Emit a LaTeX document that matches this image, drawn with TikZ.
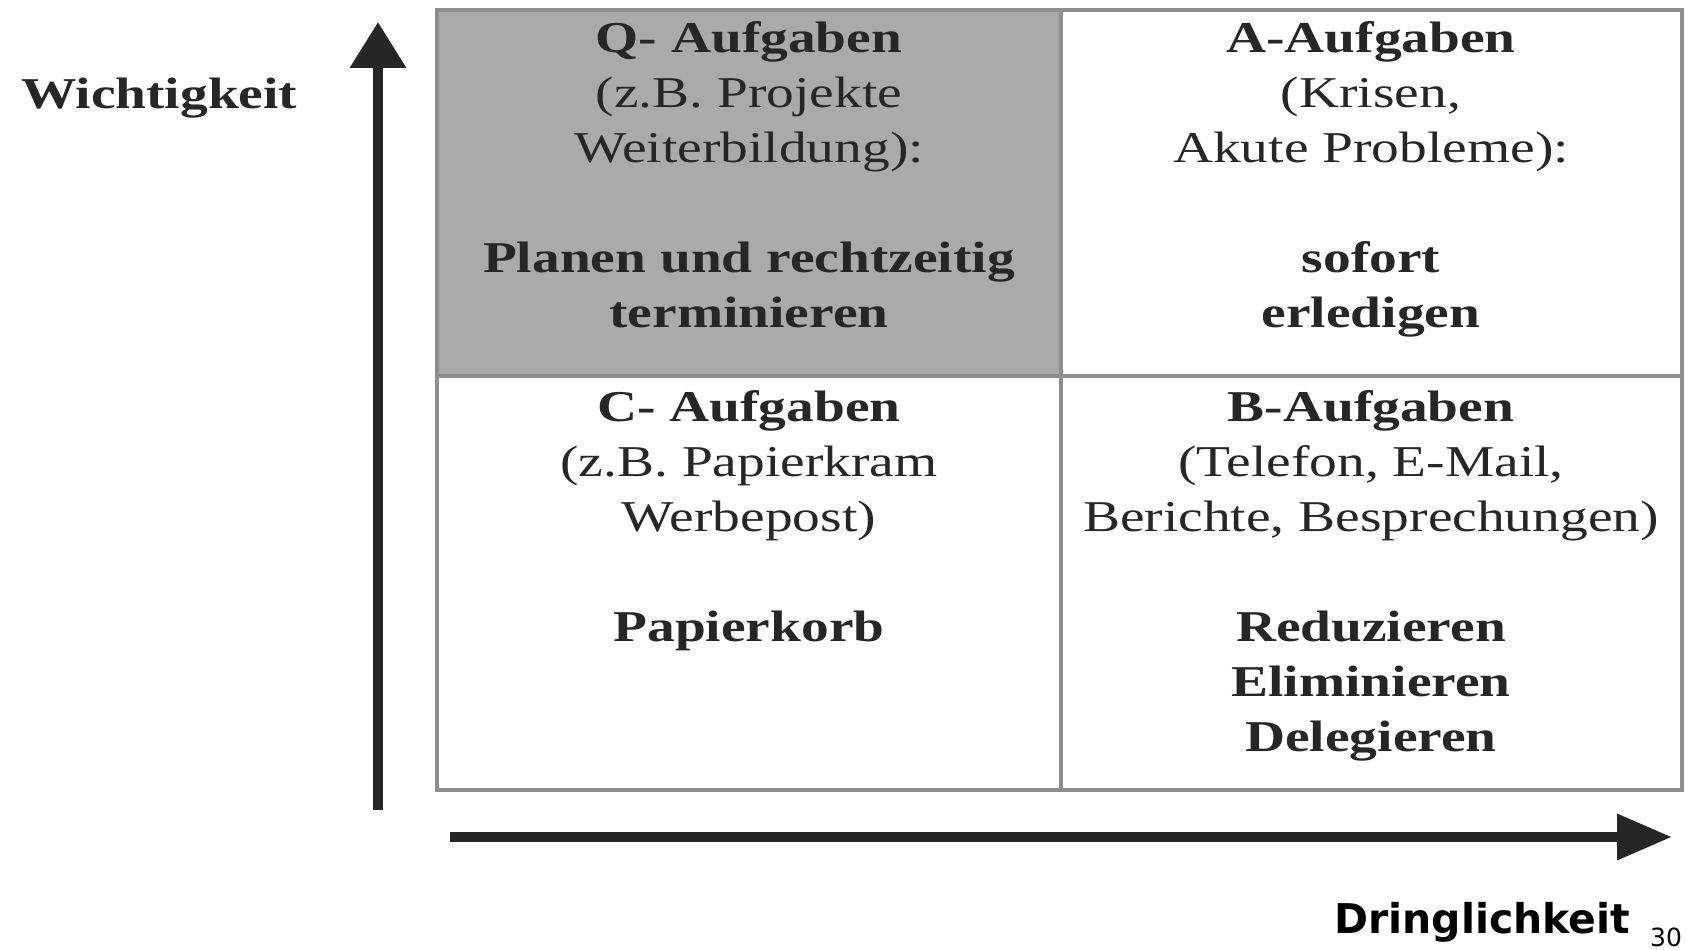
\documentclass[tikz,border=0pt]{standalone}
\usepackage{fontspec}
\usetikzlibrary{arrows.meta}
\newfontfamily\cellfont{Liberation Serif}[FakeStretch=1.26]
\newfontfamily\axisfont{DejaVu Sans}
\definecolor{quadgray}{HTML}{A8AAAC}
\definecolor{gridline}{HTML}{8E8E8E}
\definecolor{ink}{HTML}{262626}

\begin{document}
\begin{tikzpicture}[x=1pt,y=-1pt,
        cell/.style={anchor=north,align=center,inner sep=0pt,text=ink,font=\cellfont\fontsize{44}{55}\selectfont},
        axisline/.style={draw=ink,line width=10pt}]
        \useasboundingbox (0,0) rectangle (1686,950);
        \pgfmathsetmacro{\gridleft}{437}
        \pgfmathsetmacro{\gridright}{1682}
        \pgfmathsetmacro{\gridtop}{10}
        \pgfmathsetmacro{\gridbottom}{790}
        \pgfmathsetmacro{\gridmidx}{1061}
        \pgfmathsetmacro{\gridmidy}{376}

        %shade Q quadrant
        \fill[quadgray] (\gridleft,\gridtop) rectangle (\gridmidx,\gridmidy);
        %draw grid
        \draw[gridline,line width=4pt] (\gridleft,\gridtop) rectangle (\gridright,\gridbottom);
        \draw[gridline,line width=4pt] (\gridmidx,\gridtop) -- (\gridmidx,\gridbottom);
        \draw[gridline,line width=4pt] (\gridleft,\gridmidy) -- (\gridright,\gridmidy);

        %quadrant texts
        \node[cell] (nodeQ) at (749,21) {\textbf{Q- Aufgaben}\\(z.B. Projekte\\Weiterbildung):\\[55pt]\textbf{Planen und rechtzeitig}\\\textbf{terminieren}};
        \node[cell] (nodeA) at (1371,21) {\textbf{A-Aufgaben}\\(Krisen,\\Akute Probleme):\\[55pt]\textbf{sofort}\\\textbf{erledigen}};
        \node[cell] (nodeC) at (749,390) {\textbf{C- Aufgaben}\\(z.B. Papierkram\\Werbepost)\\[55pt]\textbf{Papierkorb}};
        \node[cell] (nodeB) at (1371,390) {\textbf{B-Aufgaben}\\(Telefon, E-Mail,\\Berichte, Besprechungen)\\[55pt]\textbf{Reduzieren}\\\textbf{Eliminieren}\\\textbf{Delegieren}};

        %axes
        \coordinate (yfoot) at (378,810);
        \coordinate (ytip) at (378,22);
        \coordinate (xfoot) at (450,837);
        \coordinate (xtip) at (1672,837);
        \draw[axisline,-{Triangle[length=46pt,width=54pt]}] (yfoot) -- (ytip);
        \draw[axisline,-{Triangle[length=55pt,width=44pt]}] (xfoot) -- (xtip);

        %axis labels
        \node[anchor=base west,inner sep=0pt,text=ink,font=\cellfont\bfseries\fontsize{44}{55}\selectfont] (nodeW) at (21,108) {Wichtigkeit};
        \node[anchor=base west,inner sep=0pt,font=\axisfont\bfseries\fontsize{41}{49}\selectfont] (nodeD) at (1334,933) {Dringlichkeit};
        \node[anchor=base west,inner sep=0pt,font=\axisfont\fontsize{25}{30}\selectfont] (nodeP) at (1650,946) {30};
      \end{tikzpicture}
\end{document}
